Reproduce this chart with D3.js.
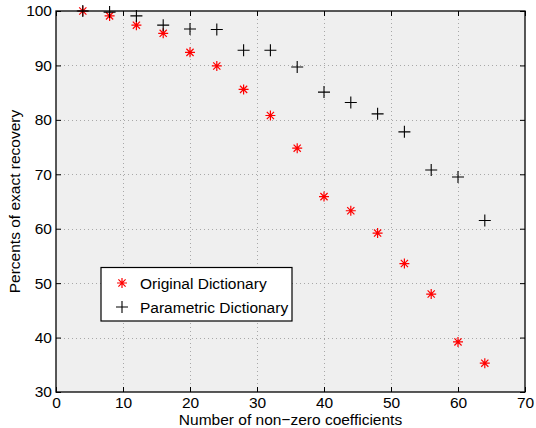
<!DOCTYPE html>
<html><head><meta charset="utf-8">
<script src="https://cdn.jsdelivr.net/npm/d3@7"></script>
<style>
html,body{margin:0;padding:0;background:#fff;}
svg{display:block;}
text{font-family:"Liberation Sans",Arial,Helvetica,sans-serif;}
</style></head>
<body><div id="chart"></div>
<script>
const xValues = [4, 8, 12, 16, 20, 24, 28, 32, 36, 40, 44, 48, 52, 56, 60, 64];
const originalDict = [100, 99.1, 97.4, 95.9, 92.4, 89.9, 85.6, 80.8, 74.8, 65.9, 63.3, 59.2, 53.6, 48.0, 39.2, 35.3];
const parametricDict = [100, 99.8, 99.1, 97.4, 96.7, 96.6, 92.8, 92.8, 89.7, 85.1, 83.2, 81.1, 77.8, 70.8, 69.5, 61.5];
const xTicks = [0, 10, 20, 30, 40, 50, 60, 70];
const yTicks = [30, 40, 50, 60, 70, 80, 90, 100];
const seriesNames = ["Original Dictionary", "Parametric Dictionary"];
const xLabel = "Number of non\u2212zero coefficients";
const yLabel = "Percents of exact recovery";

const W = 536, H = 428;
const m = {left: 56, right: 11, top: 11, bottom: 36};
const svg = d3.select("#chart").append("svg").attr("width", W).attr("height", H);
const x = d3.scaleLinear().domain([0, 70]).range([m.left, W - m.right]);
const y = d3.scaleLinear().domain([30, 100]).range([H - m.bottom, m.top]);

svg.append("rect").attr("x", x(0)).attr("y", y(100))
  .attr("width", x(70) - x(0)).attr("height", y(30) - y(100)).attr("fill", "#efefef");

// grid
const grid = svg.append("g").attr("stroke", "#a8a8a8").attr("stroke-width", 1).attr("stroke-dasharray", "1,3");
grid.selectAll(".gx").data(xTicks.slice(1, -1)).join("line")
  .attr("x1", d => Math.round(x(d)) + 0.5).attr("x2", d => Math.round(x(d)) + 0.5)
  .attr("y1", y(100)).attr("y2", y(30));
grid.selectAll(".gy").data(yTicks.slice(1, -1)).join("line")
  .attr("y1", d => Math.round(y(d)) + 0.5).attr("y2", d => Math.round(y(d)) + 0.5)
  .attr("x1", x(0)).attr("x2", x(70));

// axes
const fs = "15.5px";
const axB = svg.append("g").attr("transform", `translate(0,${y(30)})`)
  .call(d3.axisBottom(x).tickValues(xTicks).tickSizeInner(-5).tickSizeOuter(0).tickPadding(5));
const axT = svg.append("g").attr("transform", `translate(0,${y(100)})`)
  .call(d3.axisTop(x).tickValues(xTicks).tickSizeInner(-5).tickSizeOuter(0).tickFormat(""));
const axL = svg.append("g").attr("transform", `translate(${x(0)},0)`)
  .call(d3.axisLeft(y).tickValues(yTicks).tickSizeInner(-5).tickSizeOuter(0).tickPadding(4));
const axR = svg.append("g").attr("transform", `translate(${x(70)},0)`)
  .call(d3.axisRight(y).tickValues(yTicks).tickSizeInner(-5).tickSizeOuter(0).tickFormat(""));
[axB, axT, axL, axR].forEach(a => {
  a.select(".domain").remove();
  a.selectAll("line").attr("stroke", "#000");
  a.selectAll("text").attr("font-size", fs).attr("fill", "#000")
    .style("font-family", '"Liberation Sans",Arial,sans-serif');
});

// markers
function star(g, cx, cy, s, color) {
  const r = s;
  const d = r * 0.72;
  g.append("path").attr("d",
    `M${cx - r},${cy}L${cx + r},${cy}M${cx},${cy - r}L${cx},${cy + r}` +
    `M${cx - d},${cy - d}L${cx + d},${cy + d}M${cx - d},${cy + d}L${cx + d},${cy - d}`)
    .attr("stroke", color).attr("stroke-width", 1.2).attr("fill", "none");
}
function plus(g, cx, cy, s, color) {
  g.append("path").attr("d", `M${cx - s},${cy}L${cx + s},${cy}M${cx},${cy - s}L${cx},${cy + s}`)
    .attr("stroke", color).attr("stroke-width", 1.1).attr("fill", "none");
}
const pg = svg.append("g");
xValues.forEach((v, i) => star(pg, x(v), y(originalDict[i]), 5, "#ff0000"));
xValues.forEach((v, i) => plus(pg, x(v), y(parametricDict[i]), 6, "#000"));

// frame
svg.append("rect").attr("x", x(0)).attr("y", y(100))
  .attr("width", x(70) - x(0)).attr("height", y(30) - y(100))
  .attr("fill", "none").attr("stroke", "#000").attr("stroke-width", 1.3);

// legend
const lg = svg.append("g");
lg.append("rect").attr("x", 101).attr("y", 267.5).attr("width", 191).attr("height", 53.5)
  .attr("fill", "#fff").attr("stroke", "#000").attr("stroke-width", 1.2);
star(lg, 122, 283, 5, "#ff0000");
plus(lg, 122, 307, 6, "#000");
lg.selectAll("text").data(seriesNames).join("text")
  .attr("x", 140).attr("y", (d, i) => 288.5 + i * 24)
  .attr("font-size", fs).attr("fill", "#000").text(d => d);

// axis titles
svg.append("text").attr("x", 290.5).attr("y", 425)
  .attr("text-anchor", "middle").attr("font-size", fs).text(xLabel);
svg.append("text").attr("transform", `translate(19.5,${(y(30) + y(100)) / 2}) rotate(-90)`)
  .attr("text-anchor", "middle").attr("font-size", fs).text(yLabel);
</script></body></html>
